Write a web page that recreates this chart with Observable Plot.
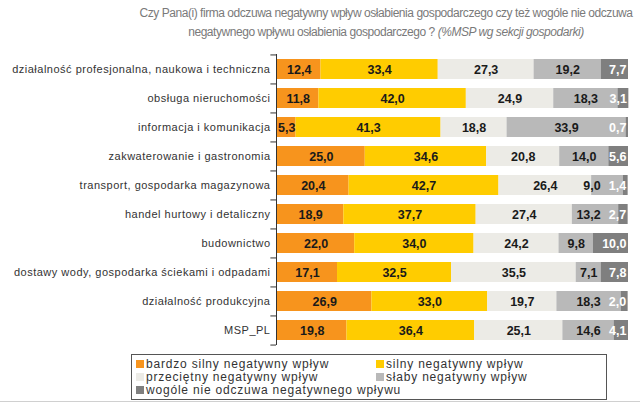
<!DOCTYPE html>
<html>
<head>
<meta charset="utf-8">
<script src="https://cdn.jsdelivr.net/npm/d3@7"></script>
<script src="https://cdn.jsdelivr.net/npm/@observablehq/plot@0.6"></script>
<style>
  body { margin: 0; background: #fff; width: 640px; height: 406px; overflow: hidden; font-family: "Liberation Sans", Arial, sans-serif; }
  #title { height: 46px; box-sizing: border-box; padding-top: 4px; padding-left: 132px; text-align: center; color: #7a7a7a; font-size: 12px; line-height: 19px; letter-spacing: -0.45px; white-space: nowrap; }
  #legend { margin-left: 131px; width: 476px; height: 46px; box-sizing: border-box; border: 1px solid #555; padding: 2px 0 0 4px; display: grid; grid-template-columns: 240px 228px; grid-auto-rows: 13px; font-size: 12px; letter-spacing: 0.8px; color: #333; }
  #legend div { display: flex; align-items: center; white-space: nowrap; overflow: visible; }
  #legend div.wide { grid-column: 1 / span 2; }
  #legend span.sw { display: inline-block; flex: 0 0 8px; width: 8px; height: 8px; margin-right: 2px; }
  #bottomline { position: absolute; left: 0; top: 401px; width: 640px; height: 1px; background: #d0d0d0; }
  #chart g[aria-label="y-axis tick label"] text { letter-spacing: 0.5px; }
</style>
</head>
<body>
<div id="title"><div>Czy Pana(i) firma odczuwa negatywny wpływ osłabienia gospodarczego czy też wogóle nie odczuwa</div><div>negatywnego wpływu osłabienia gospodarczego ? <i>(%MSP wg sekcji gospodarki)</i></div></div>
<div id="chart"></div>
<div id="legend"></div>
<div id="bottomline"></div>
<script>
const categories = [
  "działalność profesjonalna, naukowa i techniczna",
  "obsługa nieruchomości",
  "informacja i komunikacja",
  "zakwaterowanie i gastronomia",
  "transport, gospodarka magazynowa",
  "handel hurtowy i detaliczny",
  "budownictwo",
  "dostawy wody, gospodarka ściekami i odpadami",
  "działalność produkcyjna",
  "MSP_PL"
];
const seriesNames = [
  "bardzo silny negatywny wpływ",
  "silny negatywny wpływ",
  "przeciętny negatywny wpływ",
  "słaby negatywny wpływ",
  "wogóle nie odczuwa negatywnego wpływu"
];
const bardzoSilny = [12.4, 11.8, 5.3, 25.0, 20.4, 18.9, 22.0, 17.1, 26.9, 19.8];
const silny       = [33.4, 42.0, 41.3, 34.6, 42.7, 37.7, 34.0, 32.5, 33.0, 36.4];
const przecietny  = [27.3, 24.9, 18.8, 20.8, 26.4, 27.4, 24.2, 35.5, 19.7, 25.1];
const slaby       = [19.2, 18.3, 33.9, 14.0, 9.0, 13.2, 9.8, 7.1, 18.3, 14.6];
const wogole      = [7.7, 3.1, 0.7, 5.6, 1.4, 2.7, 10.0, 7.8, 2.0, 4.1];
const colors = ["#f7941d", "#ffcc00", "#ecebe6", "#b9b9b9", "#7f7f7f"];

const seriesValues = [bardzoSilny, silny, przecietny, slaby, wogole];
const fmt = v => v.toFixed(1).replace(".", ",");

const W = 640, H = 308, MT = 8, MB = 9, ML = 277, MR = 12;
const step = (H - MT - MB) / categories.length;
const pxPerUnit = (W - ML - MR) / 100;
const FS = 12.5;
const textW = s => s.split("").reduce((a, ch) => a + (ch === "," ? 0.28 : 0.556) * FS, 0);

const data = [];
categories.forEach((c, i) => {
  let end = 0;
  seriesValues.forEach(vals => end += vals[i]);
  const lastLabelW = textW(fmt(wogole[i]));
  let start = 0;
  seriesValues.forEach((vals, s) => {
    const v = vals[i];
    let mid = start + v / 2;
    if (s === seriesValues.length - 2) {
      const maxRight = end - (2 + lastLabelW + 8) / pxPerUnit;
      mid = Math.min(mid, maxRight - textW(fmt(v)) / 2 / pxPerUnit);
    }
    data.push({cat: c, series: seriesNames[s], value: v, mid, end, last: s === seriesValues.length - 1});
    start += v;
  });
});

const chart = Plot.plot({
  width: W, height: H,
  marginLeft: ML, marginRight: MR, marginTop: MT, marginBottom: MB,
  x: {domain: [0, 100], axis: null},
  y: {domain: categories, paddingInner: 0.3, paddingOuter: 0.15, label: null, axis: null},
  color: {domain: seriesNames, range: colors},
  style: {fontFamily: "'Liberation Sans', Arial, sans-serif", background: "transparent", overflow: "visible"},
  marks: [
    Plot.barX(data, Plot.stackX({x: "value", y: "cat", fill: "series"})),
    Plot.text(data.filter(d => !d.last), {x: "mid", y: "cat", text: d => fmt(d.value), fill: "#1a1a1a", fontSize: FS, fontWeight: "bold"}),
    Plot.text(data.filter(d => d.last), {x: "end", y: "cat", text: d => fmt(d.value), fill: "white", textAnchor: "end", dx: -2, fontSize: FS, fontWeight: "bold"}),
    Plot.ruleX([0], {stroke: "#333", dx: -1}),
    Plot.ruleY(categories, {y: d => d, x1: -1.6, x2: 0, dx: -1, dy: -step / 2, stroke: "#333"}),
    Plot.ruleY(categories.slice(-1), {y: d => d, x1: -1.6, x2: 0, dx: -1, dy: step / 2, stroke: "#333"}),
    Plot.axisY({tickSize: 0, tickPadding: 7, fontSize: 11, color: "#333"})
  ]
});
document.getElementById("chart").append(chart);

const leg = document.getElementById("legend");
seriesNames.forEach((name, i) => {
  const d = document.createElement("div");
  if (i === seriesNames.length - 1) d.className = "wide";
  const sw = document.createElement("span");
  sw.className = "sw";
  sw.style.background = colors[i];
  d.append(sw, document.createTextNode(name));
  leg.append(d);
});
</script>
</body>
</html>
